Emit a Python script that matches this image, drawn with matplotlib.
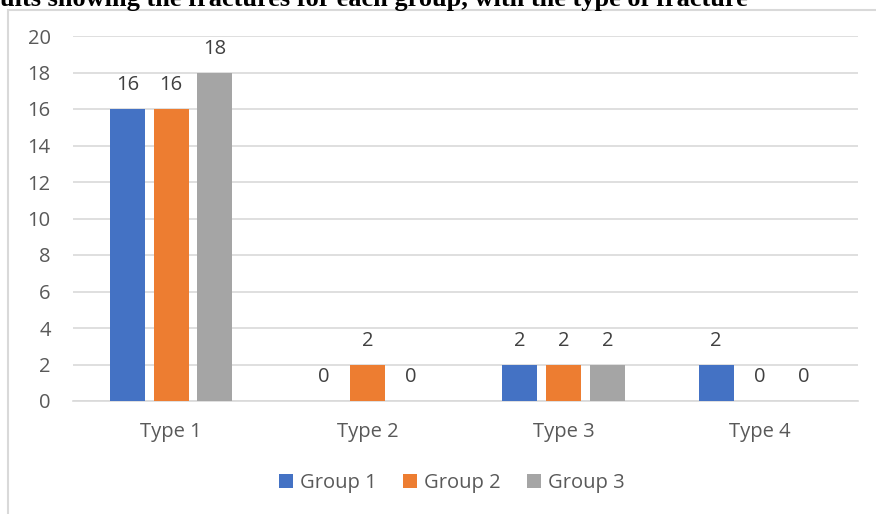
import matplotlib
matplotlib.use("Agg")
from matplotlib import pyplot as plt
from matplotlib.patches import Rectangle
import numpy as np

categories = ["Type 1", "Type 2", "Type 3", "Type 4"]
group_names = ["Group 1", "Group 2", "Group 3"]
group1 = [16, 0, 2, 2]
group2 = [16, 2, 2, 0]
group3 = [18, 0, 2, 0]
colors = ["#4472c4", "#ed7d31", "#a5a5a5"]

plt.rcParams["font.family"] = ["Open Sans", "DejaVu Sans"]

W, H = 876, 514
fig = plt.figure(figsize=(8.76, 5.14), dpi=100)

# outer chart frame (light grey)
fig.patches.append(Rectangle((8 / W, -0.1), 1.0, (H - 10) / H + 0.1,
                             transform=fig.transFigure, fill=False,
                             edgecolor="#d9d9d9", linewidth=1.5))

# clipped caption at the top
fig.text(0.0, 1 - 6 / H, "ults showing the fractures for each group, with the type of fracture",
         family="Liberation Serif", fontweight="bold", fontsize=19,
         ha="left", va="baseline", color="black")

ax = fig.add_axes([73 / W, 1 - 401 / H, (858 - 73) / W, (401 - 36) / H])

x = np.arange(len(categories))
width = 0.178
offsets = [-0.223, 0, 0.223]
for vals, name, c, off in zip([group1, group2, group3], group_names, colors, offsets):
    bars = ax.bar(x + off, vals, width, color=c, label=name, zorder=3)
    for b, v in zip(bars, vals):
        ax.text(b.get_x() + b.get_width() / 2, v + 1.3, str(v),
                ha="center", va="center", fontsize=14.5, color="#404040")

ax.set_xlim(-0.5, 3.5)
ax.set_ylim(0, 20)
ax.set_yticks(range(0, 21, 2))
ax.set_xticks(x)
ax.set_xticklabels(categories)
ax.grid(axis="y", color="#d9d9d9", linewidth=1.2, zorder=0)
for s in ["top", "right", "left"]:
    ax.spines[s].set_visible(False)
ax.spines["bottom"].set_color("#d9d9d9")
ax.spines["bottom"].set_linewidth(1.2)
ax.tick_params(axis="both", length=0, labelsize=14.5, colors="#595959")
ax.tick_params(axis="y", pad=16)
ax.tick_params(axis="x", pad=15)

fig.legend(loc="center", bbox_to_anchor=(452 / W, 1 - 483 / H), ncol=3,
           frameon=False, fontsize=14.5, handlelength=0.7, handleheight=0.7,
           handletextpad=0.35, columnspacing=1.3, labelcolor="#595959")

fig.savefig("out.png", dpi=100)
